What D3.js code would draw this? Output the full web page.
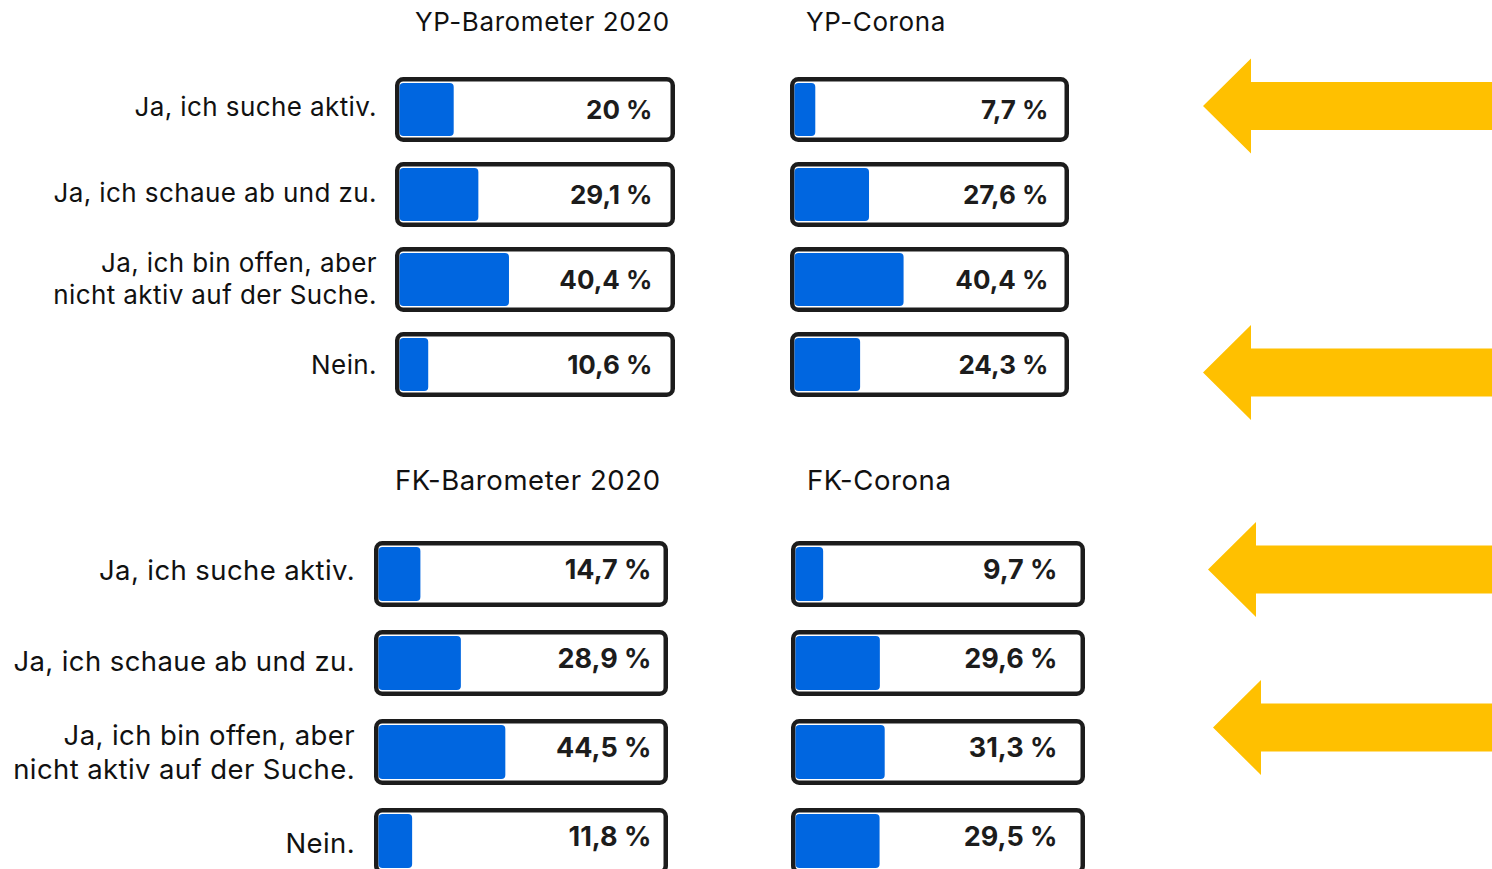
<!DOCTYPE html>
<html><head><meta charset="utf-8">
<script src="https://cdn.jsdelivr.net/npm/d3@7"></script>
<style>
html,body{margin:0;padding:0;background:#fff;}
svg{display:block;font-family:Inter, "Noto Sans", sans-serif;}
</style></head>
<body>
<svg id="chart" width="1492" height="869"></svg>
<script>
// ---- data ----
const categories = ["Ja, ich suche aktiv.", "Ja, ich schaue ab und zu.", "Ja, ich bin offen, aber\nnicht aktiv auf der Suche.", "Nein."];
const seriesNames = ["YP-Barometer 2020", "YP-Corona", "FK-Barometer 2020", "FK-Corona"];
const ypBarometer = [20, 29.1, 40.4, 10.6];
const ypCorona = [7.7, 27.6, 40.4, 24.3];
const fkBarometer = [14.7, 28.9, 44.5, 11.8];
const fkCorona = [9.7, 29.6, 31.3, 29.5];
// highlighted rows (arrows): group, row index
const arrowRows = [{group: 0, row: 0}, {group: 0, row: 3}, {group: 1, row: 0}, {group: 1, row: 2}];

// ---- layout ----
const groups = [
  {range: [77, 397], pad: 20/85, titleY: 31, titleSize: 26, labelX: 377, labelSize: 26, lineGap: 32, labelDy: 8, labelStep: 1.3,
   valueSize: 26,
   panels: [{name: seriesNames[0], values: ypBarometer, x0: 395, x1: 675, titleX: 415, textPad: 18, textDy: 9},
            {name: seriesNames[1], values: ypCorona, x0: 790, x1: 1069, titleX: 806, textPad: 16, textDy: 9}],
   arrows: [{tipX: 1203, dy: -3.5}, {tipX: 1203, dy: 8}]},
  {range: [541, 874], pad: 23/89, titleY: 490, titleSize: 27.5, labelX: 355, labelSize: 27.5, lineGap: 34, labelDy: 9, labelStep: 2,
   valueSize: 27,
   panels: [{name: seriesNames[2], values: fkBarometer, x0: 374, x1: 668, titleX: 395, textPad: 12, textDy: 5},
            {name: seriesNames[3], values: fkCorona, x0: 791, x1: 1085, titleX: 807, textPad: 23, textDy: 5}],
   arrows: [{tipX: 1208, dy: -4.5}, {tipX: 1213, dy: -24.5}]}
];
const sw = 4.5;
const ink = "#1c1c1c";
const blue = "#0066e0";
const gold = "#ffc000";

const svg = d3.select("#chart");
const fmt = v => String(v).replace(".", ",") + " %";

groups.forEach((g, gi) => {
  const y = d3.scaleBand().domain(categories).range(g.range).paddingInner(g.pad).paddingOuter(0);
  const bw = y.bandwidth();

  // category labels
  const lab = svg.append("g").selectAll("text").data(categories).join("text")
    .attr("text-anchor", "end")
    .attr("font-size", g.labelSize)
    .attr("letter-spacing", 0.4)
    .attr("fill", "#111");
  lab.each(function(d, i) {
    const lines = d.split("\n");
    const cy = y(d) + bw / 2 + (i - 1.5) * g.labelStep;
    const first = cy + g.labelDy - (lines.length - 1) * g.lineGap / 2;
    d3.select(this).selectAll("tspan").data(lines).join("tspan")
      .attr("x", g.labelX)
      .attr("y", (l, k) => first + k * g.lineGap)
      .text(l => l);
  });

  g.panels.forEach(p => {
    const innerL = p.x0 + sw, innerR = p.x1 - sw;
    const x = d3.scaleLinear().domain([0, 100]).range([innerL, innerR]);
    const pg = svg.append("g");
    pg.append("text").attr("x", p.titleX).attr("y", g.titleY)
      .attr("font-size", g.titleSize).attr("letter-spacing", 0.6).attr("fill", "#111").text(p.name);

    const rows = pg.selectAll("g.row").data(categories.map((c, i) => ({c, v: p.values[i]})))
      .join("g").attr("class", "row");
    rows.append("rect")
      .attr("x", p.x0 + sw / 2).attr("y", d => y(d.c) + sw / 2)
      .attr("width", p.x1 - p.x0 - sw).attr("height", bw - sw)
      .attr("rx", 6).attr("fill", "#fff").attr("stroke", ink).attr("stroke-width", sw);
    rows.append("rect")
      .attr("x", x(0)).attr("y", d => y(d.c) + sw + 1.5)
      .attr("width", d => x(d.v) - x(0)).attr("height", bw - 2 * sw - 3)
      .attr("rx", 4).attr("fill", blue);
    rows.append("text")
      .attr("x", innerR - p.textPad).attr("y", d => y(d.c) + bw / 2 + p.textDy)
      .attr("text-anchor", "end").attr("font-size", g.valueSize).attr("font-weight", 700)
      .attr("fill", ink).text(d => fmt(d.v));
  });

  // arrows
  arrowRows.filter(a => a.group === gi).forEach((a, k) => {
    const spec = g.arrows[k];
    const cy = y(categories[a.row]) + bw / 2 + spec.dy;
    const tx = spec.tipX, hx = tx + 48, hh = 47.5, sh = 24;
    const pts = [[tx, cy], [hx, cy - hh], [hx, cy - sh], [1492, cy - sh], [1492, cy + sh], [hx, cy + sh], [hx, cy + hh]];
    svg.append("path").attr("d", d3.line()(pts) + "Z").attr("fill", gold);
  });
});
</script>
</body></html>
